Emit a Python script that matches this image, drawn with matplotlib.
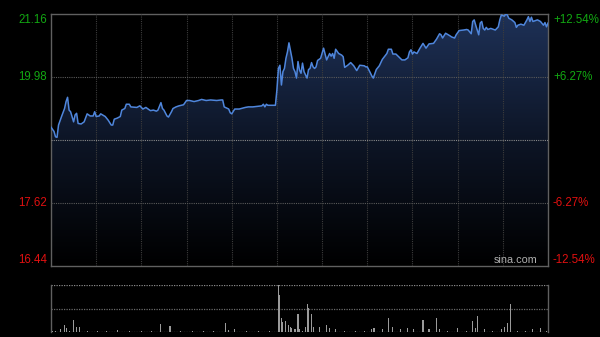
import matplotlib.pyplot as plt
import numpy as np
from matplotlib.patches import Polygon
from matplotlib.colors import LinearSegmentedColormap

plt.rcParams['font.family'] = ['Liberation Sans', 'DejaVu Sans']

# ---------------------------------------------------------------
# Data (intraday, HK session 330 minutes), previous close 18.80
# ---------------------------------------------------------------
prev_close = 18.80
y_min, y_max = 16.44, 21.16

minutes = [0, 2, 3, 4, 5, 7, 9, 10, 11, 12, 13, 15, 16, 17, 18, 20, 22, 24, 26, 28,
           29, 30, 32, 33, 36, 38, 40, 41, 42, 44, 46, 47, 49, 50, 52, 53, 57, 59, 61, 63,
           66, 68, 70, 71, 73, 74, 75, 77, 78, 80, 81, 83, 85, 88, 90, 92, 95, 98, 100, 103,
           106, 110, 113, 114, 115, 118, 119, 120, 122, 125, 129, 131, 134, 140, 141, 142, 143, 144, 149, 150,
           151, 152, 153, 154, 155, 156, 157, 158, 160, 161, 162, 163, 164, 165, 166, 167, 168, 170, 171, 172,
           173, 174, 175, 176, 177, 179, 181, 183, 184, 185, 186, 187, 188, 189, 191, 193, 194, 195, 197, 199,
           201, 203, 205, 208, 209, 210, 212, 213, 214, 216, 218, 220, 223, 224, 226, 227, 229, 233, 235, 237,
           238, 239, 240, 241, 243, 245, 247, 249, 251, 254, 256, 258, 259, 260, 262, 265, 266, 268, 269, 271,
           274, 276, 277, 279, 280, 281, 282, 284, 285, 286, 287, 288, 289, 290, 292, 295, 297, 298, 299, 301,
           302, 303, 304, 306, 308, 309, 310, 312, 314, 316, 317, 318, 319, 320, 323, 325, 327, 328, 329, 330]
prices = [19.04, 18.96, 18.86, 18.85, 19.08, 19.24, 19.39, 19.52, 19.60, 19.36, 19.33, 19.14, 19.27, 19.30, 19.11, 19.10, 19.14, 19.29, 19.25, 19.25,
          19.33, 19.24, 19.25, 19.29, 19.24, 19.17, 19.08, 19.08, 19.19, 19.21, 19.24, 19.36, 19.39, 19.47, 19.47, 19.42, 19.41, 19.44, 19.38, 19.41,
          19.35, 19.36, 19.34, 19.36, 19.50, 19.39, 19.36, 19.25, 19.23, 19.33, 19.39, 19.42, 19.44, 19.46, 19.54, 19.54, 19.52, 19.54, 19.56, 19.54,
          19.55, 19.54, 19.55, 19.55, 19.42, 19.38, 19.31, 19.29, 19.38, 19.38, 19.41, 19.42, 19.42, 19.44, 19.47, 19.42, 19.47, 19.45, 19.45, 19.74,
          20.14, 20.20, 19.83, 20.08, 20.14, 20.33, 20.45, 20.62, 20.33, 20.14, 20.08, 19.96, 20.27, 20.11, 20.05, 20.24, 20.08, 19.96, 20.12, 20.14,
          20.25, 20.17, 20.14, 20.17, 20.29, 20.33, 20.52, 20.30, 20.36, 20.42, 20.37, 20.42, 20.33, 20.50, 20.42, 20.39, 20.36, 20.16, 20.20, 20.25,
          20.19, 20.10, 20.20, 20.19, 20.17, 20.17, 20.06, 20.00, 19.96, 20.12, 20.19, 20.31, 20.42, 20.50, 20.50, 20.41, 20.41, 20.30, 20.30, 20.34,
          20.45, 20.49, 20.41, 20.45, 20.42, 20.52, 20.61, 20.52, 20.60, 20.61, 20.69, 20.79, 20.77, 20.71, 20.80, 20.75, 20.73, 20.71, 20.77, 20.85,
          20.86, 20.87, 20.86, 20.79, 21.02, 21.05, 20.95, 20.77, 20.99, 21.02, 20.89, 20.86, 20.91, 20.87, 20.89, 20.86, 20.92, 21.05, 21.14, 21.12,
          21.16, 21.14, 21.08, 21.05, 21.00, 20.91, 20.95, 20.97, 20.95, 21.05, 21.11, 21.02, 21.10, 21.02, 21.05, 21.02, 20.95, 21.00, 20.92, 20.99]

vol_minutes = [1, 3, 6, 9, 10, 12, 15, 17, 19, 24, 31, 37, 44, 52, 60, 67, 73, 79, 86, 94,
               101, 108, 116, 118, 122, 130, 138, 145, 151, 152, 153, 154, 156, 158, 159, 160, 162, 164, 165, 167,
               169, 170, 171, 173, 174, 178, 183, 185, 189, 195, 202, 208, 213, 214, 215, 220, 224, 227, 232, 237,
               241, 247, 251, 256, 258, 263, 270, 276, 280, 282, 283, 288, 293, 299, 301, 303, 305, 310, 315, 320,
               325, 329]
vol_values = [1.0, 1.3, 2.7, 7.0, 3.7, 1.2, 12.0, 5.0, 5.0, 1.0, 1.2, 1.0, 2.0, 1.0, 1.2, 1.0, 8.0, 6.3, 1.0, 1.2,
              1.0, 1.2, 9.3, 2.0, 2.7, 1.0, 1.2, 1.0, 47.0, 37.0, 13.7, 10.3, 11.0, 7.0, 5.3, 3.7, 2.7, 18.0, 2.7, 1.5,
              5.3, 28.0, 23.7, 18.0, 5.0, 5.3, 7.0, 3.7, 2.7, 1.2, 1.5, 1.2, 2.7, 3.7, 3.7, 2.7, 14.3, 4.7, 2.7, 3.7,
              2.7, 12.0, 2.7, 14.3, 2.7, 1.5, 3.7, 1.2, 11.3, 3.7, 16.0, 2.7, 1.5, 2.7, 5.3, 8.7, 28.0, 1.5, 1.2, 2.7,
              3.7, 1.5]

left_ticks = [16.44, 17.62, 19.98, 21.16]
left_labels = ['16.44', '17.62', '19.98', '21.16']
right_labels = ['-12.54%', '-6.27%', '+6.27%', '+12.54%']
label_colors = ['#e01010', '#e01010', '#12a812', '#12a812']
time_grid = [30, 60, 90, 120, 150, 180, 210, 240, 270, 300]

# ---------------------------------------------------------------
fig = plt.figure(figsize=(6.0, 3.37), dpi=100, facecolor='black')
ax = fig.add_axes([51 / 600, 1 - 266 / 337, 497 / 600, 252 / 337], facecolor='black')
axv = fig.add_axes([51 / 600, 1 - 332 / 337, 497 / 600, 47 / 337], facecolor='black')

ax.set_xlim(0, 330)
ax.set_ylim(y_min, y_max)

# grid (drawn on top of the area fill)
for t in time_grid:
    ax.axvline(t, color='#3c3c3c', lw=0.8, ls=(0, (1, 1)), zorder=3)
for p in [17.62, 19.98]:
    ax.axhline(p, color='#5a5a5a', lw=0.8, ls=(0, (1, 1)), zorder=3)
ax.axhline(prev_close, color='#8a8a8a', lw=0.8, ls=(0, (1, 1)), zorder=3)

# gradient area under price
cmap = LinearSegmentedColormap.from_list('area', ['#000000', '#0d1526', '#1e3157'])
grad = np.linspace(0, 1, 256).reshape(-1, 1)
im = ax.imshow(grad, extent=[0, 330, y_min, y_max], origin='lower', aspect='auto',
               cmap=cmap, zorder=2)
verts = [(minutes[0], y_min)] + list(zip(minutes, prices)) + [(minutes[-1], y_min)]
patch = Polygon(verts, closed=True, facecolor='none', edgecolor='none')
ax.add_patch(patch)
im.set_clip_path(patch)

ax.plot(minutes, prices, color='#4f86dc', lw=1.1, zorder=4)

ax.set_xticks([])
ax.set_yticks([])
for s in ax.spines.values():
    s.set_color('#606060')
    s.set_linewidth(1.0)

# price / percent labels
ytr = ax.get_yaxis_transform()
for i, (v, lab, rlab, c) in enumerate(zip(left_ticks, left_labels, right_labels, label_colors)):
    va = 'bottom' if i == 0 else ('top' if i == 3 else 'center')
    ax.text(-0.008, v, lab, transform=ytr, ha='right', va=va, color=c, fontsize=8.3)
    ax.text(1.01, v, rlab, transform=ytr, ha='left', va=va, color=c, fontsize=8.3)

ax.text(0.978, 0.004, 'sina.com', transform=ax.transAxes, ha='right', va='bottom',
        color='#b0b0b0', fontsize=7.8, zorder=5)

# volume panel
vmax = max(vol_values)
axv.set_xlim(0, 330)
axv.set_ylim(0, vmax)
axv.bar(vol_minutes, vol_values, width=0.7, color='#9a9a9a', linewidth=0, zorder=3)
axv.axhline(vmax, color='#8a8a8a', lw=0.9, ls=(0, (1, 1)), zorder=2)
axv.axhline(vmax / 2, color='#6a6a6a', lw=0.9, ls=(0, (1, 1)), zorder=2)
axv.axhline(0, color='#7a7a7a', lw=0.9, ls=(0, (1, 1)), zorder=2)
axv.set_xticks([])
axv.set_yticks([])
for k in ['top', 'bottom']:
    axv.spines[k].set_visible(False)
for k in ['left', 'right']:
    axv.spines[k].set_color('#606060')
    axv.spines[k].set_linewidth(1.0)

fig.savefig('out.png', dpi=100, facecolor='black')
